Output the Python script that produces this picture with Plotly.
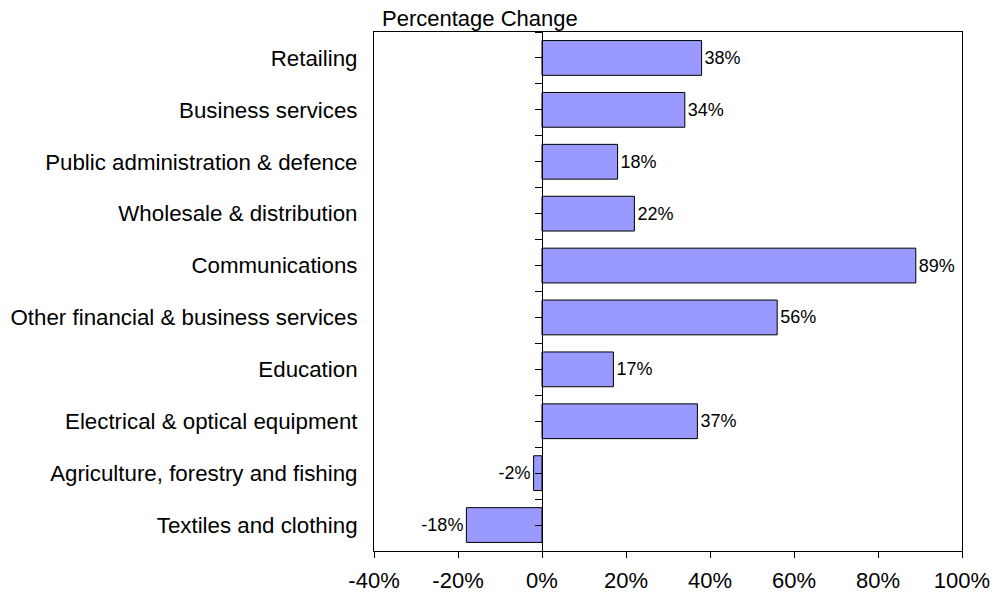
import plotly.graph_objects as go
import numpy as np

categories = [
    "Retailing",
    "Business services",
    "Public administration & defence",
    "Wholesale & distribution",
    "Communications",
    "Other financial & business services",
    "Education",
    "Electrical & optical equipment",
    "Agriculture, forestry and fishing",
    "Textiles and clothing",
]
values = [38, 34, 18, 22, 89, 56, 17, 37, -2, -18]
labels = [f"{v}%" for v in values]
x_ticks = [-40, -20, 0, 20, 40, 60, 80, 100]
x_tick_text = [f"{v}%" for v in x_ticks]
title_text = "Percentage Change"

FONT = "Liberation Sans, Arial, sans-serif"

fig = go.Figure()
fig.add_trace(go.Bar(
    x=values, y=categories, orientation="h",
    marker=dict(color="#9999FF", line=dict(color="#000000", width=1)),
    text=labels, textposition="outside", cliponaxis=False,
    textfont=dict(family=FONT, size=18, color="#000000"),
    showlegend=False, hoverinfo="skip",
))
# invisible helper trace to carry the axis through zero
fig.add_trace(go.Scatter(
    x=[0], y=[0], yaxis="y2", mode="markers",
    marker=dict(opacity=0), showlegend=False, hoverinfo="skip",
))

n = len(categories)
x_min, x_max = x_ticks[0], x_ticks[-1]
fig.update_layout(
    width=994, height=596,
    margin=dict(l=374, r=32, t=32, b=45, autoexpand=False),
    paper_bgcolor="white", plot_bgcolor="white",
    bargap=0.33,
    font=dict(family=FONT, color="#000000"),
    xaxis=dict(
        range=[x_min, x_max], tickvals=x_ticks, ticktext=x_tick_text,
        showgrid=False, zeroline=False, automargin=False,
        showline=True, linecolor="#000000", linewidth=1, mirror=True,
        ticks="outside", ticklen=6, tickcolor="#000000",
        ticklabelstandoff=4,
        tickfont=dict(family=FONT, size=22, color="#000000"),
    ),
    yaxis=dict(
        categoryorder="array", categoryarray=categories,
        range=[n - 0.5, -0.5], automargin=False,
        showgrid=False, zeroline=False,
        showline=True, linecolor="#000000", linewidth=1, mirror=True,
        ticks="", ticklabelstandoff=11,
        tickfont=dict(family=FONT, size=22.3, color="#000000"),
    ),
    yaxis2=dict(
        overlaying="y", anchor="free", automargin=False,
        position=(0 - x_min) / (x_max - x_min),
        range=[n - 0.5, -0.5],
        tickvals=list(np.arange(-0.5, n, 0.5)),
        showticklabels=False, showgrid=False, zeroline=False,
        showline=True, linecolor="#000000", linewidth=1,
        ticks="outside", ticklen=7, tickcolor="#000000",
    ),
    annotations=[dict(
        text=title_text, xref="paper", yref="paper", x=0, y=1,
        xanchor="left", yanchor="bottom", xshift=6, yshift=-1, showarrow=False,
        font=dict(family=FONT, size=22, color="#000000"),
    )],
)

fig.write_html("out.html")
